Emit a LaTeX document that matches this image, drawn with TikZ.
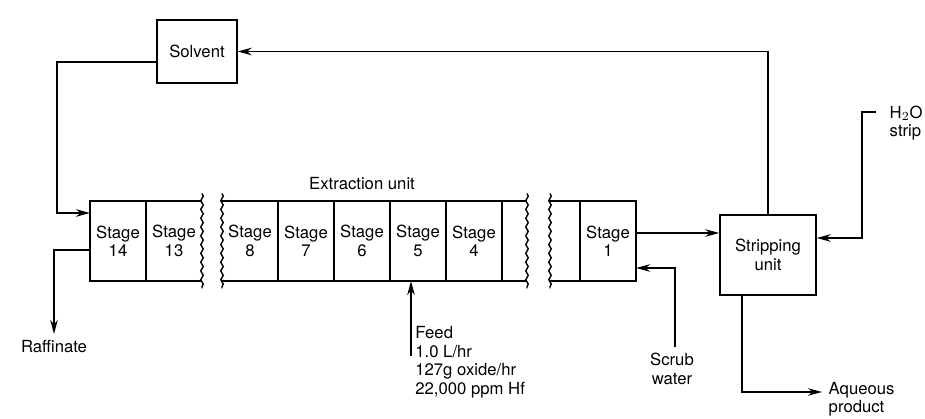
\documentclass[tikz,border=0pt]{standalone}
\usepackage{fontspec}
\setmainfont{TeX Gyre Heros}
\usetikzlibrary{arrows.meta,positioning,decorations.pathmorphing}
\begin{document}
\begin{tikzpicture}[font=\fontsize{9.5}{10.5}\selectfont, line width=1pt, >={Stealth[length=2.8mm,width=1.5mm,inset=0.9mm]},
  st/.style={draw, line width=0.8pt, minimum width=1.12cm, minimum height=1.6cm, inner sep=0pt, outer sep=0pt, align=center},
  brk/.style={st, draw=none},
  wavy/.style={decorate, decoration={snake, amplitude=0.7pt, segment length=5pt}, line width=0.8pt},
  unit/.style={draw, line width=0.8pt, minimum width=#1, align=center}]
\useasboundingbox (0,0) rectangle (18.5,8.38);
\node[unit=1.6cm, minimum height=1.26cm] (solv) at (3.94,7.35) {Solvent};
\node[unit=1.92cm, minimum height=1.6cm] (strip) at (15.36,3.28) {Stripping\\unit};
% extraction unit, in three pieces
\node[st] (s14) at (2.36,3.56) {Stage\\14}; \node[brk, right=0pt of s14] (s13) {Stage\\13};
\node[brk] (s8) at (5.0,3.56) {Stage\\8}; \node[st, right=0pt of s8] (s7) {Stage\\7};
\node[st, right=0pt of s7] (s6) {Stage\\6}; \node[st, right=0pt of s6] (s5) {Stage\\5};
\node[st, right=0pt of s5] (s4) {Stage\\4}; \node[brk, minimum width=0.5cm, right=0pt of s4] (e4) {};
\node[brk, minimum width=0.6cm] (e1) at (11.3,3.56) {}; \node[st, right=0pt of e1] (s1) {Stage\\1};
\foreach \n in {s13,s8,e4,e1} \draw[line width=0.8pt] (\n.north west) -- (\n.north east) (\n.south west) -- (\n.south east);
\foreach \n/\a in {s13/east, s8/west, e4/east, e1/west} \draw[wavy] ([yshift=1.5mm]\n.north \a) -- ([yshift=-1.5mm]\n.south \a);
\node[above=1mm of s6] (ext) {Extraction unit};
% streams
\node[anchor=north] (raff) at (1.08,1.70) {Raffinate};
\node[anchor=north west, align=left, inner xsep=2pt] (feed) at (8.22,1.98) {Feed\\1.0 L/hr\\127g oxide/hr\\22,000 ppm Hf};
\node[align=center] (scrub) at (13.44,1.0) {Scrub\\water};
\node[anchor=west, align=left] (h2o) at (17.66,5.92) {H$_2$O\\strip};
\node[anchor=west, align=left] (aq) at (16.44,0.40) {Aqueous\\product};
\draw[->] ([yshift=-2.1mm]solv.west) -- ++(-1.98,0) |- ([yshift=5.6mm]s14.west);
\draw[->] ([yshift=-1.8mm]s14.west) -| (raff.north);
\draw[->] ([yshift=-7.2mm]feed.north west) -- (feed.north west |- s5.south);
\draw[->] (scrub.north -| 13.5,0) |- ([yshift=-5.4mm]s1.east);
\draw[->] ([yshift=1.6mm]s1.east) coordinate (a) -- (a -| strip.west);
\draw[->] (strip.north) |- (solv.east);
\draw[->] ([shift={(-0.14,0.22)}]h2o.west) -- ++(-0.28,0) |- ([yshift=3.4mm]strip.east);
\draw[->] ([xshift=-5.2mm]strip.south) |- ([yshift=1.4mm]aq.west);
\end{tikzpicture}
\end{document}
